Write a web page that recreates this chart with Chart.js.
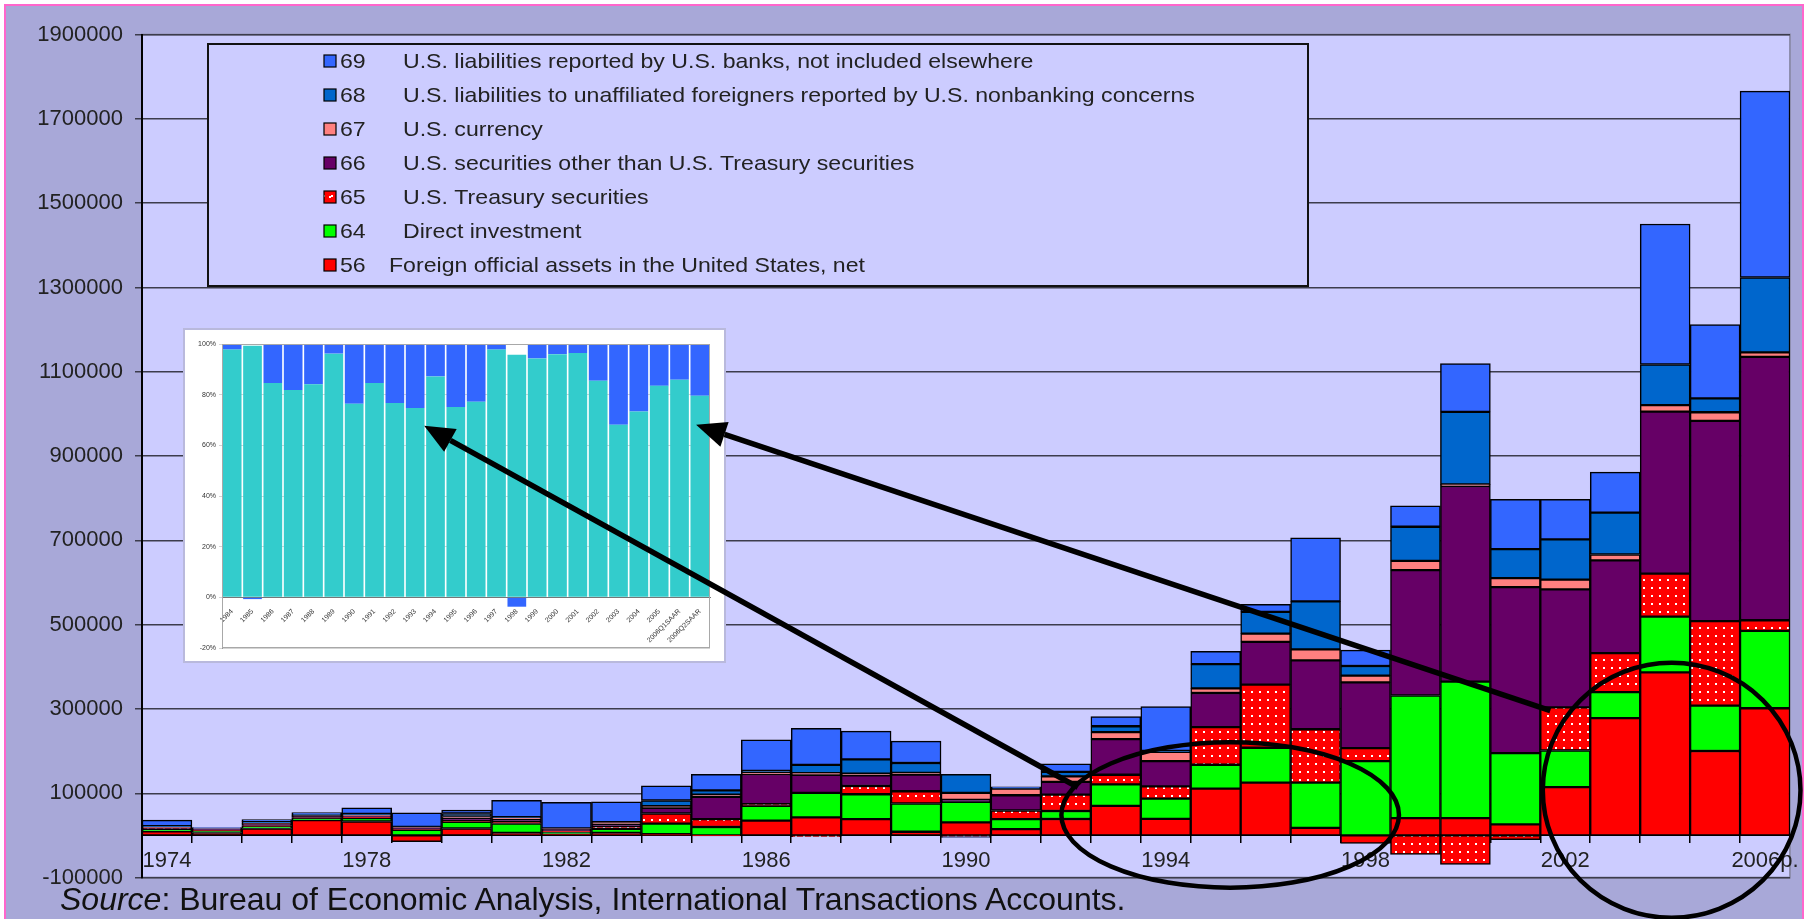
<!DOCTYPE html>
<html><head><meta charset="utf-8">
<script src="https://cdn.jsdelivr.net/npm/chart.js@4.4.1/dist/chart.umd.min.js"></script>
<style>
html,body{margin:0;padding:0;background:#fff;}
#wrap{position:relative;width:1808px;height:919px;overflow:hidden;}
#main{position:absolute;left:0;top:0;}
#src{position:absolute;left:60px;top:881px;font:32px 'Liberation Sans',Arial,sans-serif;color:#111;white-space:nowrap;}
#inset{position:absolute;left:183px;top:328px;width:539px;height:331px;background:#fff;border:2px solid #b9b9dc;}
#insetCanvas{position:absolute;left:0;top:0;}
#overlay{position:absolute;left:0;top:0;pointer-events:none;}
</style></head><body>
<div id="wrap">
<canvas id="main" width="1808" height="919"></canvas>
<div id="src"><i>Source</i>: Bureau of Economic Analysis, International Transactions Accounts.</div>
<div id="inset"><canvas id="insetCanvas" width="539" height="331"></canvas></div>
<canvas id="overlay" width="1808" height="919"></canvas>
</div>
<script>
// ---------- data (millions of dollars) ----------
const years = ['1974','1975','1976','1977','1978','1979','1980','1981','1982','1983','1984','1985','1986','1987','1988','1989','1990','1991','1992','1993','1994','1995','1996','1997','1998','1999','2000','2001','2002','2003','2004','2005','2006p.'];
const foreignOfficial56 = [9500,7000,16500,36400,33100,-15000,16500,6000,3500,6000,3000,-1000,35000,42700,38600,8700,31000,15100,39000,70000,39400,111000,125300,18100,-19000,41200,41200,26400,114600,278300,386900,200300,301800];
const directInvestment64 = [4800,2600,4300,3700,7900,13400,15800,22400,4000,9800,25000,20000,35300,58300,59100,67100,48500,23700,19000,51000,48100,56800,82700,107200,176500,290900,323700,168800,86900,61700,132400,107800,183600];
const treasury65 = [2000,2600,2800,2500,2200,2500,2600,3000,3500,6000,24000,18800,3800,-3000,19700,29100,-2500,20500,39000,23000,29100,89200,149800,126700,30700,-45000,-68800,-10000,102200,92600,101700,200200,25200];
const otherSecurities66 = [2000,2500,3000,2500,2300,1400,5500,7000,3000,5000,13500,52800,71600,43000,25200,39400,5000,36000,30000,84500,59900,81000,101600,163300,156100,297400,464100,393900,280000,219900,384500,475100,624900];
const currency67 = [1500,1500,1500,1900,3500,2000,4500,3300,2500,4700,4000,5000,3400,4000,4000,4000,16500,15800,13000,16500,22100,11000,19600,26000,15700,21800,4000,21300,23100,14100,15500,20600,10500];
const nonbank68 = [2400,1500,4700,3500,2200,1200,7100,1600,0,0,13500,10400,4000,19400,33800,23600,44000,2000,11000,14000,2000,57600,51300,114200,23000,81100,172000,68800,95700,99400,96400,33000,177800];
const banks69 = [14000,1200,5000,3900,14200,33100,7900,40200,62300,48100,34600,38000,74000,86900,67000,51900,-2000,2000,19000,23000,105000,30000,18100,150500,37700,49900,114600,118000,95000,96100,333300,174900,442100];

const seriesCodes = ['56','64','65','66','67','68','69'];
const seriesNames = [
  'Foreign official assets in the United States, net',
  'Direct investment',
  'U.S. Treasury securities',
  'U.S. securities other than U.S. Treasury securities',
  'U.S. currency',
  'U.S. liabilities to unaffiliated foreigners reported by U.S. nonbanking concerns',
  'U.S. liabilities reported by U.S. banks, not included elsewhere'
];
const yTickMin = -100000, yTickMax = 1900000, yTickStep = 200000;

// inset (share of inflows, %)
const insetLabels = ['1984','1985','1986','1987','1988','1989','1990','1991','1992','1993','1994','1995','1996','1997','1998','1999','2000','2001','2002','2003','2004','2005','2006Q1SAAR','2006Q2SAAR'];
const insetCyan = [97.8,99.3,84.6,81.8,84.1,96.2,76.4,84.6,76.7,74.7,87.2,75.1,77.2,97.8,95.8,94.3,96.0,96.4,85.5,68.1,73.4,83.5,85.9,79.6];
const insetBlue = [2.2,-0.7,15.4,18.2,15.9,3.8,23.6,15.4,23.3,25.3,12.8,24.9,22.8,2.2,-3.7,5.7,4.0,3.6,14.5,31.9,26.6,16.5,14.1,20.4];

// ---------- styles ----------
const FONT = "'Liberation Sans', Arial, Helvetica, sans-serif";
Chart.defaults.font.family = FONT;

function dotPattern(){
  const c = document.createElement('canvas'); c.width = 8; c.height = 8;
  const x = c.getContext('2d');
  x.fillStyle = '#FF0000'; x.fillRect(0,0,8,8);
  x.fillStyle = '#FFFFFF'; x.fillRect(3,3,2,2);
  return x.createPattern(c,'repeat');
}
const seriesColors = ['#FF0000','#00FF00',dotPattern(),'#660066','#FF8080','#0066CC','#3366FF'];
const seriesData = [foreignOfficial56, directInvestment64, treasury65, otherSecurities66, currency67, nonbank68, banks69];

const datasets = seriesData.map((d,i)=>({
  label: seriesCodes[i] + ' ' + seriesNames[i],
  code: seriesCodes[i], name: seriesNames[i],
  data: d,
  backgroundColor: seriesColors[i],
  borderColor: '#000',
  borderWidth: 1.5,
  borderSkipped: false,
  categoryPercentage: 1,
  barPercentage: 1
}));

const framePlugin = {
  id:'frame',
  beforeDraw(chart){
    const ctx = chart.ctx, a = chart.chartArea;
    ctx.save();
    ctx.fillStyle = '#ffffff'; ctx.fillRect(0,0,chart.width,chart.height);
    ctx.fillStyle = '#A8A8D8'; ctx.fillRect(6,6,chart.width-12,chart.height);
    ctx.strokeStyle = '#FF66CC'; ctx.lineWidth = 2; ctx.strokeRect(5,5,chart.width-10,chart.height+20);
    ctx.fillStyle = '#CCCCFF'; ctx.fillRect(a.left,a.top,a.right-a.left,a.bottom-a.top);
    ctx.strokeStyle = '#8e8eae'; ctx.lineWidth = 2; ctx.strokeRect(a.left,a.top,a.right-a.left,a.bottom-a.top);
    ctx.restore();
  }
};

function stretchedText(ctx, text, x, y, sx){
  ctx.save(); ctx.translate(x, y); ctx.scale(sx, 1); ctx.fillText(text, 0, 0); ctx.restore();
}

const legendPlugin = {
  id:'boxLegend',
  afterDraw(chart){
    const ctx = chart.ctx;
    const box = {x:208, y:44, w:1100, h:242};
    ctx.save();
    ctx.fillStyle = '#CCCCFF'; ctx.fillRect(box.x,box.y,box.w,box.h);
    ctx.strokeStyle = '#111'; ctx.lineWidth = 2; ctx.strokeRect(box.x,box.y,box.w,box.h);
    const ds = chart.data.datasets.slice().reverse();
    ctx.font = '21px ' + FONT; ctx.textBaseline = 'middle';
    ds.forEach((d,i)=>{
      const y = 61 + i*34;
      ctx.fillStyle = d.backgroundColor; ctx.fillRect(324,y-6,12,12);
      if (d.code === '65'){ ctx.fillStyle='#fff'; ctx.fillRect(329,y-1,2,2); }
      ctx.strokeStyle = '#000'; ctx.lineWidth = 1.2; ctx.strokeRect(324,y-6,12,12);
      ctx.fillStyle = '#222';
      stretchedText(ctx, d.code, 340, y+1, 1.1);
      stretchedText(ctx, d.name, d.code === '56' ? 389 : 403, y+1, 1.1);
    });
    ctx.restore();
  }
};

const mainChart = new Chart(document.getElementById('main'), {
  type:'bar',
  data:{labels: years, datasets},
  options:{
    responsive:false, animation:false, devicePixelRatio:1, events:[],
    layout:{padding:{left:0, right:18, top:34.6, bottom:41.4}},
    plugins:{legend:{display:false}, tooltip:{enabled:false}},
    scales:{
      x:{
        stacked:true, position:{y:0},
        border:{display:true, color:'#000', width:2},
        grid:{offset:true, drawOnChartArea:false, drawTicks:true, tickLength:7, color:'#000', lineWidth:1.5},
        ticks:{autoSkip:false, maxRotation:0, minRotation:0, padding:5, color:'#222', font:{size:22},
          callback:(v,i)=> i % 4 === 0 ? years[i] : ''}
      },
      y:{
        stacked:true, min:yTickMin, max:yTickMax,
        afterFit:(s)=>{ s.width = 142; },
        border:{display:true, color:'#000', width:2},
        grid:{color:'#3c3c4c', lineWidth:1.5, tickLength:7, drawTicks:true},
        ticks:{stepSize:yTickStep, padding:12, color:'#222', font:{size:22}, callback:(v)=> String(v)}
      }
    }
  },
  plugins:[framePlugin, legendPlugin]
});

// ---------- inset chart ----------
const insetFrame = {
  id:'insetFrame',
  afterDraw(c){
    const a = c.chartArea, ctx = c.ctx;
    ctx.save(); ctx.strokeStyle = '#a8a8a8'; ctx.lineWidth = 1;
    ctx.strokeRect(a.left+0.5,a.top+0.5,a.right-a.left-1,a.bottom-a.top-1);
    ctx.restore();
  }
};
new Chart(document.getElementById('insetCanvas'), {
  type:'bar',
  data:{labels: insetLabels, datasets:[
    {label:'share', data: insetCyan, backgroundColor:'#33CCCC', borderWidth:0, categoryPercentage:0.92, barPercentage:1},
    {label:'rest', data: insetBlue, backgroundColor:'#3366FF', borderWidth:0, categoryPercentage:0.92, barPercentage:1}
  ]},
  options:{
    responsive:false, animation:false, devicePixelRatio:1, events:[],
    layout:{padding:{left:0, top:14, right:14, bottom:13}},
    plugins:{legend:{display:false}, tooltip:{enabled:false}},
    scales:{
      x:{stacked:true, position:{y:0}, grid:{display:false}, border:{color:'#777', width:1},
        ticks:{font:{size:7}, color:'#333', minRotation:45, maxRotation:45, autoSkip:false, padding:2}},
      y:{stacked:true, min:-20, max:100, afterFit:(s)=>{ s.width = 37; },
        grid:{color:'#d4d4d4', lineWidth:1, drawTicks:true, tickLength:3},
        border:{color:'#999'},
        ticks:{stepSize:20, font:{size:7}, color:'#333', padding:3, callback:(v)=> v + '%'}}
    }
  },
  plugins:[insetFrame]
});

// ---------- annotations (in data units of the main chart) ----------
const annotationEllipses = [
  {cat:21.29, val:48700, rCat:3.38, rVal:172600},
  {cat:30.13, val:107300, rCat:2.58, rVal:302600}
];
const annotationArrows = [
  {fromCat:18.24, fromVal:114400, toCat:5.15, toVal:971800},
  {fromCat:27.7, fromVal:296000, toCat:10.595, toVal:974200}
];
(function drawOverlay(){
  const ctx = document.getElementById('overlay').getContext('2d');
  const xs = mainChart.scales.x, ys = mainChart.scales.y;
  ctx.strokeStyle = '#000'; ctx.fillStyle = '#000';
  ctx.lineWidth = 4.5;
  annotationEllipses.forEach(e=>{
    const cx = xs.getPixelForValue(e.cat), cy = ys.getPixelForValue(e.val);
    const rx = Math.abs(xs.getPixelForValue(e.cat + e.rCat) - cx);
    const ry = Math.abs(ys.getPixelForValue(e.val + e.rVal) - cy);
    ctx.beginPath(); ctx.ellipse(cx, cy, rx, ry, 0, 0, Math.PI*2); ctx.stroke();
  });
  ctx.lineWidth = 5.5; ctx.lineCap = 'butt';
  annotationArrows.forEach(a=>{
    const x1 = xs.getPixelForValue(a.fromCat), y1 = ys.getPixelForValue(a.fromVal);
    const x2 = xs.getPixelForValue(a.toCat), y2 = ys.getPixelForValue(a.toVal);
    const ang = Math.atan2(y2-y1, x2-x1);
    const L = 30, W = 13;
    const bx = x2 - L*Math.cos(ang), by = y2 - L*Math.sin(ang);
    ctx.beginPath(); ctx.moveTo(x1,y1); ctx.lineTo(bx,by); ctx.stroke();
    ctx.beginPath();
    ctx.moveTo(x2,y2);
    ctx.lineTo(bx + W*Math.sin(ang), by - W*Math.cos(ang));
    ctx.lineTo(bx - W*Math.sin(ang), by + W*Math.cos(ang));
    ctx.closePath(); ctx.fill();
  });
})();
</script>
</body></html>
